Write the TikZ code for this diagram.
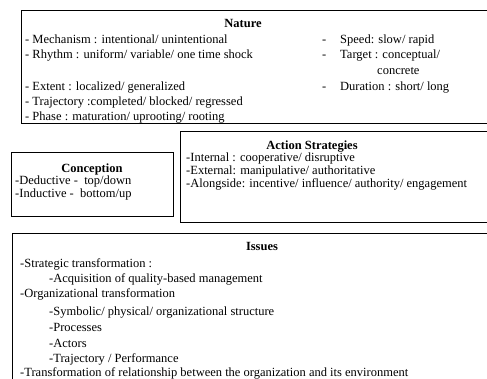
\documentclass[tikz,border=0pt]{standalone}
\usepackage{fontspec}
\setmainfont{Liberation Serif}

\begin{document}
\begin{tikzpicture}[x=1pt,y=-1pt,
        box/.style={draw,line width=1pt},
        every node/.style={inner sep=0pt,font=\fontsize{12.5}{14}\selectfont},
        ttl/.style={anchor=base,font=\fontsize{12.5}{14}\selectfont\bfseries},
        itm/.style={anchor=base west}]
  \useasboundingbox (0,0) rectangle (487,379);
  \clip (0,0) rectangle (487,379);

  % frames
  \draw[box] (21,11) rectangle (500,124);
  \draw[box] (180,132) rectangle (500,223);
  \draw[box] (11,153) rectangle (173,217);
  \draw[box] (12,234) rectangle (500,400);

  % nature
  \node[ttl] (nat) at (243,28) {Nature};
  \node[itm] (mech) at (25,44) {- Mechanism : intentional/ unintentional};
  \node[itm] (rhy) at (25,59) {- Rhythm : uniform/ variable/ one time shock};
  \node[itm] (ext) at (25,91) {- Extent : localized/ generalized};
  \node[itm] (traj) at (25,106) {- Trajectory :completed/ blocked/ regressed};
  \node[itm] (pha) at (25,121) {- Phase : maturation/ uprooting/ rooting};
  \foreach \y/\nm/\txt in {44/spd/{Speed: slow/ rapid},
                           59/tgt/{Target : conceptual/},
                           91/dur/{Duration : short/ long}} {
    \node[itm] (\nm-d) at (322,\y) {-};
    \node[itm] (\nm) at (340,\y) {\txt};
  }
  \node[itm] (conc) at (377,75) {concrete};

  % action strategies
  \node[ttl] (act) at (312,150) {Action Strategies};
  \node[itm] (intl) at (186,162) {-Internal : cooperative/ disruptive};
  \node[itm] (extl) at (186,175) {-External: manipulative/ authoritative};
  \node[itm] (along) at (186,188) {-Alongside: incentive/ influence/ authority/ engagement};

  % conception
  \node[ttl] (conc-t) at (92,173) {Conception};
  \node[itm] (ded) at (15,185) {-Deductive -\ \ top/down};
  \node[itm] (ind) at (15,198) {-Inductive -\ \ bottom/up};

  % issues
  \node[ttl] (iss) at (262,251) {Issues};
  \foreach \y/\x/\nm/\txt in {268/20/strat/{-Strategic transformation :},
                              283/49/acq/{-Acquisition of quality-based management},
                              298/20/org/{-Organizational transformation},
                              315/49/sym/{-Symbolic/ physical/ organizational structure},
                              331/49/proc/{-Processes},
                              347/49/acto/{-Actors},
                              362/49/perf/{-Trajectory / Performance},
                              376/20/env/{-Transformation of relationship between the organization and its environment}}
    \node[itm] (\nm) at (\x,\y) {\txt};
\end{tikzpicture}
\end{document}
